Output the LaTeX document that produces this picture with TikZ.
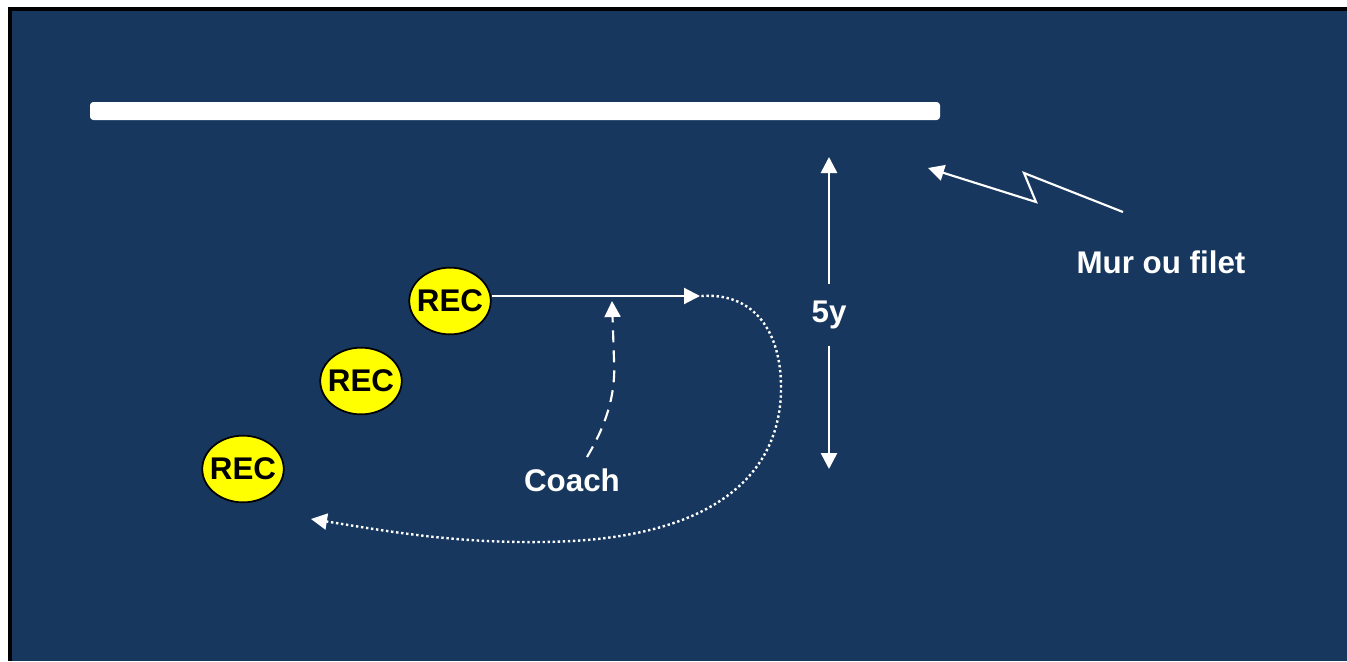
\documentclass[tikz,border=0pt]{standalone}
\usepackage{fontspec}
\setmainfont{Liberation Sans}
\usetikzlibrary{arrows.meta,shapes.geometric}
\definecolor{field}{HTML}{17375E}
\definecolor{recyellow}{HTML}{FFFF00}
\tikzset{
  x=0.75pt, y=-0.75pt,
  lbl/.style={text=white, font=\fontsize{23.5}{27}\selectfont\bfseries, inner sep=0pt},
  rec/.style={ellipse, draw=black, line width=1.3pt, fill=recyellow,
              minimum height=50pt, inner xsep=-3.2pt, inner ysep=0pt,
              font=\fontsize{23.5}{27}\selectfont\bfseries},
  wall/.style={fill=white, rounded corners=2.5pt, minimum width=637.5pt,
               minimum height=13.5pt, inner sep=0pt},
  tip/.style={-{Triangle[length=12pt,width=12pt]}},
  path/.style={draw=white, line width=1.6pt},
  run/.style={path, tip},
  coachrun/.style={path, tip, dash pattern=on 9pt off 6pt},
  ballrun/.style={path, tip, line width=1.8pt, dash pattern=on 1.8pt off 2pt},
  measure/.style={draw=white, line width=2pt, -{Triangle[length=12pt,width=12pt]}},
}
\begin{document}
\begin{tikzpicture}
  % page and field
  \useasboundingbox (0,0) rectangle (1347,661);
  \fill[white] (0,0) rectangle (1347,661);
  \fill[black] (8,7) rectangle (1347,661);
  \fill[field] (12,11) rectangle (1347,661);

  % wall / net
  \node[wall] (wall) at (515,111) {};

  % receivers
  \node[rec] (rec1) at (450,301) {REC};
  \node[rec] (rec2) at (361,381) {REC};
  \node[rec] (rec3) at (243,469) {REC};

  % labels
  \node[lbl] (coach) at (572,480) {Coach};
  \node[lbl] (mur) at (1161,262) {Mur ou filet};
  \node[lbl, minimum height=46pt] (fivey) at (829,315) {5y};

  % turning point of the run and free ends
  \coordinate (turn) at (700,296);
  \coordinate (coachstart) at (587,457);
  \coordinate (coachend) at (612,301);
  \coordinate (ballend) at (311,519);
  \coordinate (walltip) at (928,168);
  \coordinate (wallfrom) at (1123,212);
  \coordinate (top) at (829,157);
  \coordinate (bottom) at (829,469);

  % receiver run
  \draw[run] ([yshift=3.75pt]rec1.east) -- (turn);

  % coach throw
  \draw[coachrun] (coachstart) .. controls (606,425) and (616,395) .. (614,360) -- (coachend);

  % return route
  \draw[ballrun] ([xshift=1pt]turn) .. controls (760,292) and (782,340) .. (781,390)
        .. controls (780,470) and (720,541) .. (540,542)
        .. controls (450,543) and (380,530) .. (ballend);

  % 5 yards distance
  \draw[measure] (fivey.north) -- (top);
  \draw[measure] (fivey.south) -- (bottom);

  % pointer to the wall
  \draw[run] (wallfrom) -- (1024,173) -- (1036,202) -- (walltip);
\end{tikzpicture}
\end{document}
